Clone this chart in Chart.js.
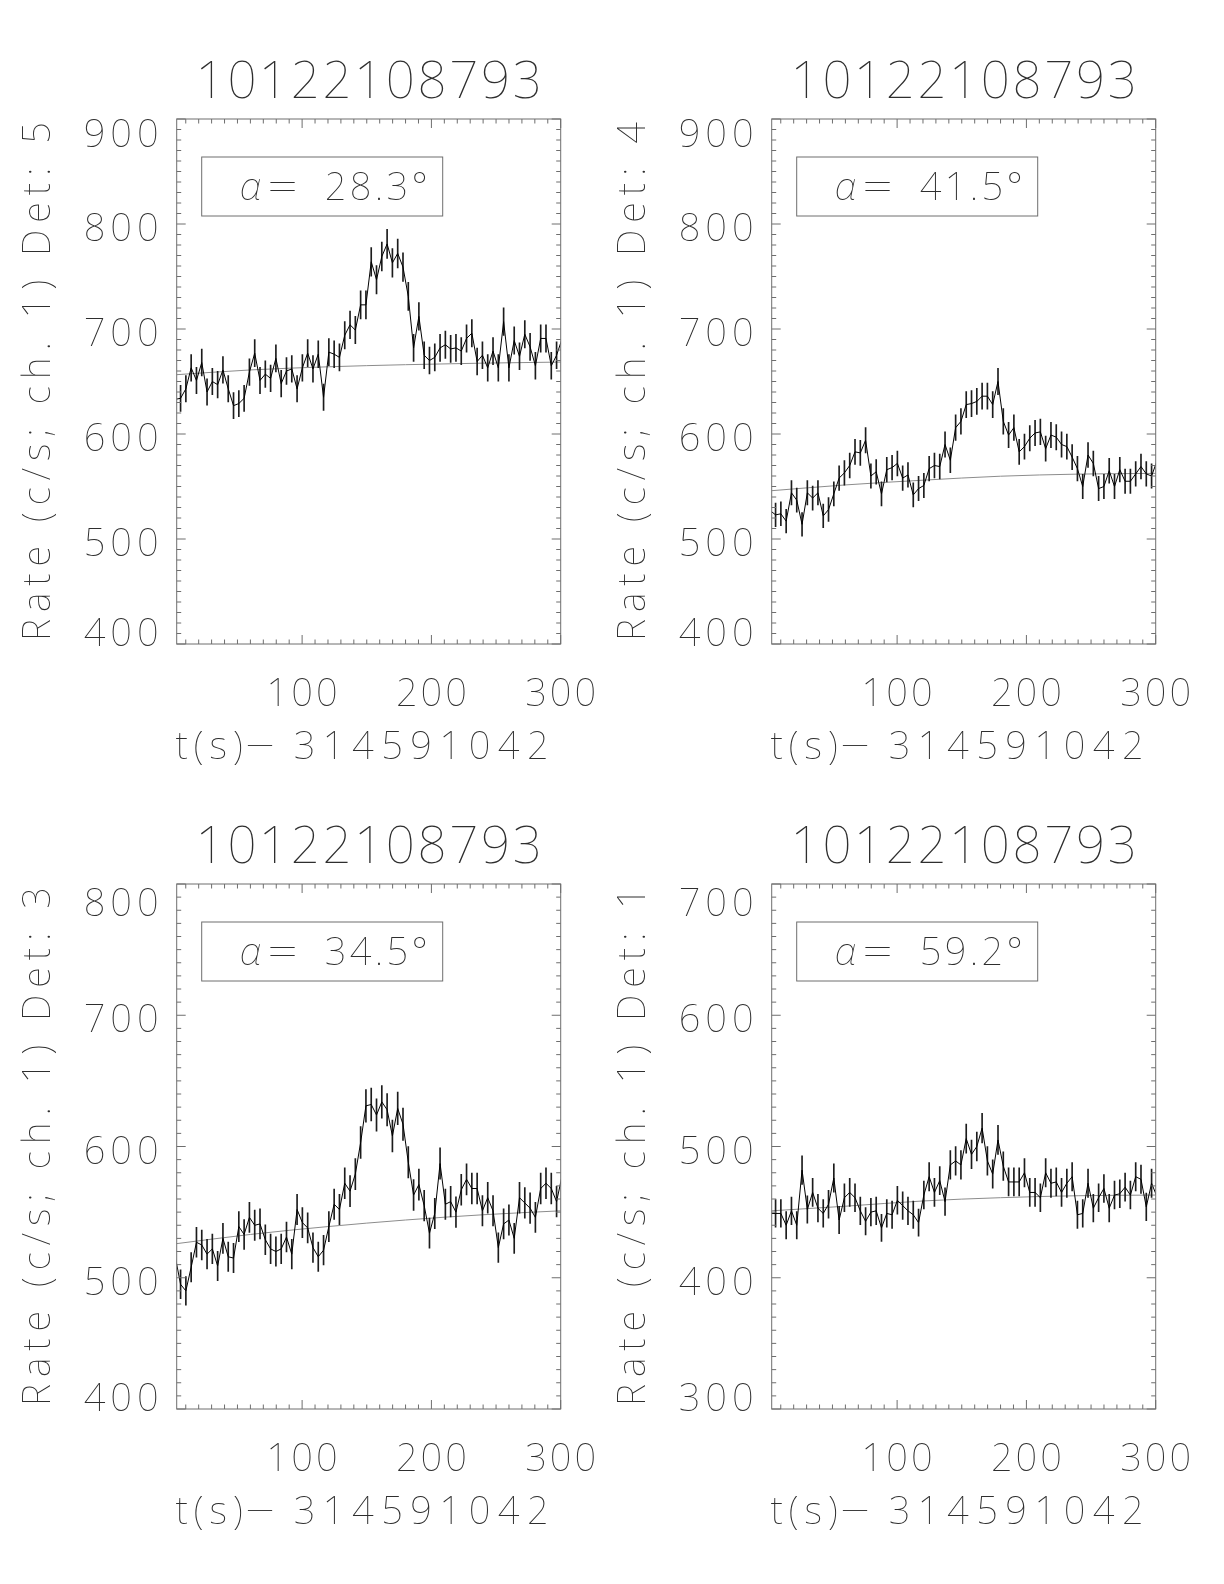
<!DOCTYPE html>
<html lang="en">
<head>
<meta charset="utf-8">
<title>10122108793 - count rate per detector</title>
<script src="https://cdn.jsdelivr.net/npm/chart.js@4.4.1/dist/chart.umd.min.js"></script>
<style>
  html, body { margin: 0; padding: 0; background: #fff; }
  body { position: relative; width: 1224px; height: 1584px; overflow: hidden; }
  canvas { position: absolute; }
</style>
</head>
<body>
<canvas id="det5" width="629" height="790" style="left:0;top:0"></canvas>
<canvas id="det4" width="629" height="790" style="left:595px;top:0"></canvas>
<canvas id="det3" width="629" height="790" style="left:0;top:765px"></canvas>
<canvas id="det1" width="629" height="790" style="left:595px;top:765px"></canvas>
<script>
// ============================================================
//  Light curves of burst 10122108793, four detectors, channel 1
// ============================================================

/* ── Data ── */
const BURST_ID = '10122108793';
const T_REF    = '314591042';
const BIN_S    = 4.096;          // time bin width (s)
const T_FIRST  = 1.9;            // centre of first bin (s after T_REF)
const X_MIN    = 3;
const X_MAX    = 300;
const X_TICKS  = [100, 200, 300];
const FIT_T    = [3, 60, 120, 180, 240, 300];

const RATE_DET5 = [633, 634, 643, 663, 651, 668, 640, 650, 647, 661,
                   643, 627, 629, 634, 659, 677, 651, 657, 653, 672,
                   648, 660, 662, 643, 663, 677, 662, 676, 635, 678,
                   676, 673, 694, 704, 699, 723, 723, 764, 747, 769,
                   781, 763, 772, 759, 731, 682, 712, 675, 670, 673,
                   682, 685, 681, 682, 679, 691, 696, 669, 675, 663,
                   679, 663, 707, 663, 689, 674, 695, 683, 665, 691,
                   691, 665, 675, 690];
const RATE_DET4 = [527, 523, 524, 517, 544, 537, 514, 544, 539, 544,
                   522, 528, 543, 558, 563, 570, 583, 582, 594, 560,
                   564, 543, 566, 568, 572, 558, 561, 542, 548, 551,
                   567, 570, 569, 590, 575, 606, 612, 628, 629, 631,
                   636, 636, 628, 650, 612, 599, 606, 583, 588, 596,
                   601, 602, 586, 599, 597, 590, 588, 578, 567, 550,
                   580, 572, 548, 550, 565, 550, 566, 555, 555, 562,
                   569, 562, 560, 574];
const RATE_DET3 = [516, 495, 490, 508, 527, 525, 518, 522, 509, 530,
                   516, 515, 539, 533, 546, 540, 541, 529, 522, 520,
                   522, 531, 518, 552, 542, 538, 523, 516, 521, 539,
                   556, 552, 572, 566, 579, 603, 631, 632, 624, 634,
                   628, 608, 629, 617, 588, 563, 571, 555, 534, 549,
                   587, 556, 558, 550, 567, 575, 568, 568, 551, 561,
                   551, 523, 541, 544, 530, 561, 557, 553, 546, 568,
                   572, 568, 558, 577];
const RATE_DET1 = [449, 449, 449, 440, 451, 440, 482, 452, 465, 453,
                   449, 456, 476, 444, 461, 465, 461, 451, 443, 450,
                   451, 438, 449, 448, 459, 455, 451, 448, 442, 463,
                   477, 465, 474, 458, 486, 489, 486, 506, 494, 500,
                   514, 489, 479, 505, 485, 473, 473, 473, 480, 465,
                   465, 461, 480, 472, 473, 465, 472, 477, 448, 449,
                   472, 453, 461, 468, 453, 463, 464, 469, 463, 477,
                   475, 454, 472, 462];

// background fit, sampled at FIT_T
const FIT_DET5 = [656.5, 661, 664, 666, 667.5, 668.5];
const FIT_DET4 = [546, 551.5, 556, 559.8, 561.8, 562.5];
const FIT_DET3 = [526, 533, 539, 544, 548, 551];
const FIT_DET1 = [451, 454.5, 458.5, 461, 462.5, 463];

const Y_TICKS_DET5 = [400, 500, 600, 700, 800, 900];
const Y_TICKS_DET4 = [400, 500, 600, 700, 800, 900];
const Y_TICKS_DET3 = [400, 500, 600, 700, 800];
const Y_TICKS_DET1 = [300, 400, 500, 600, 700];

const PANELS = [
  { canvas: 'det5', det: 5, alpha: '28.3', rate: RATE_DET5, fit: FIT_DET5, yTicks: Y_TICKS_DET5 },
  { canvas: 'det4', det: 4, alpha: '41.5', rate: RATE_DET4, fit: FIT_DET4, yTicks: Y_TICKS_DET4 },
  { canvas: 'det3', det: 3, alpha: '34.5', rate: RATE_DET3, fit: FIT_DET3, yTicks: Y_TICKS_DET3 },
  { canvas: 'det1', det: 1, alpha: '59.2', rate: RATE_DET1, fit: FIT_DET1, yTicks: Y_TICKS_DET1 },
];

/* ── Look ── */
const FONT       = '"Noto Sans", "DejaVu Sans", sans-serif';
const DIGIT_H    = 0.714;        // digit height of the font, in em
const TEXT_COLOR = '#2e2e2e';
const AXIS_COLOR = '#6e6e6e';
const CANVAS_W = 629, CANVAS_H = 790;
const AREA = { left: 176.7, top: 119, width: 384, height: 525 };
// top-label nudge: IDL pulls the end labels inside the frame
const TOP_NUDGE = { det5: 14, det4: 14, det3: 18, det1: 18 };

function setFont(ctx, size, italic) {
  ctx.font = `${italic ? 'italic ' : ''}100 ${size}px ${FONT}`;
  ctx.textAlign = 'left';
  ctx.textBaseline = 'alphabetic';
}

// draw str with its left edge at `left`, stretched to `width` px via letter spacing,
// vertically centred (on the digit height) at midY
function fitText(ctx, str, left, midY, size, width, italic = false) {
  setFont(ctx, size, italic);
  ctx.letterSpacing = '0px';
  const w = ctx.measureText(str).width;
  const n = [...str].length;
  const ls = n > 1 ? (width - w) / (n - 1) : 0;
  ctx.letterSpacing = ls + 'px';
  ctx.fillText(str, left, midY + size * DIGIT_H / 2);
  ctx.letterSpacing = '0px';
}

// one glyph (like '=' or '−') widened to the broad Hershey shape
function wideGlyph(ctx, ch, left, midY, size, width) {
  setFont(ctx, size, false);
  ctx.letterSpacing = '0px';
  const m = ctx.measureText(ch);
  const ink = m.actualBoundingBoxLeft + m.actualBoundingBoxRight;
  ctx.save();
  ctx.translate(left, midY + size * DIGIT_H / 2);
  ctx.scale(width / ink, 1);
  ctx.fillText(ch, m.actualBoundingBoxLeft, 0);
  ctx.restore();
}

/* ── IDL-like frame, inward ticks and labels ── */
const idlAxes = {
  id: 'idlAxes',
  afterDatasetsDraw(chart, args, opts) {
    const { ctx, chartArea: a, scales: { x, y } } = chart;
    const yt = opts.yTicks;
    ctx.save();
    ctx.strokeStyle = AXIS_COLOR;
    ctx.lineWidth = 1;
    ctx.strokeRect(a.left, a.top, a.right - a.left, a.bottom - a.top);

    ctx.beginPath();
    for (let v = 10; v <= X_MAX; v += 10) {
      if (v < X_MIN) continue;
      const len = X_TICKS.includes(v) ? 9 : 4.5;
      const px = x.getPixelForValue(v);
      ctx.moveTo(px, a.bottom); ctx.lineTo(px, a.bottom - len);
      ctx.moveTo(px, a.top);    ctx.lineTo(px, a.top + len);
    }
    for (let v = yt[0]; v <= yt[yt.length - 1]; v += 10) {
      const len = yt.includes(v) ? 9 : 4.5;
      const py = y.getPixelForValue(v);
      ctx.moveTo(a.left, py);  ctx.lineTo(a.left + len, py);
      ctx.moveTo(a.right, py); ctx.lineTo(a.right - len, py);
    }
    ctx.stroke();

    ctx.fillStyle = TEXT_COLOR;
    // y tick labels, right edge 18px left of the frame
    yt.forEach((v, i) => {
      let dy = 3.5;
      if (i === 0) dy = -12;
      if (i === yt.length - 1) dy = opts.topNudge;
      fitText(ctx, String(v), a.left - 18 - 75, y.getPixelForValue(v) + dy, 38, 75);
    });
    // x tick labels
    X_TICKS.forEach(v => {
      fitText(ctx, String(v), x.getPixelForValue(v) - 35.5, a.bottom + 48.5, 38, 71);
    });
    const cx = (a.left + a.right) / 2;
    fitText(ctx, BURST_ID, cx - 173, a.top - 39, 51, 346);

    // x title: "t(s)− 314591042"
    const xy = a.bottom + 101;
    fitText(ctx, 't(s)', a.left - 1, xy, 38, 67);
    wideGlyph(ctx, '\u2212', a.left + 71, xy, 38, 25);
    fitText(ctx, T_REF, a.left + 117, xy, 38, 255);

    ctx.save();
    ctx.translate(a.left - 140, (a.top + a.bottom) / 2);
    ctx.rotate(-Math.PI / 2);
    fitText(ctx, `Rate (c/s; ch. 1) Det: ${opts.det}`, -259.5, 0, 38, 519);
    ctx.restore();

    // angle box
    const bx = a.left + 25, by = a.top + 38;
    ctx.strokeRect(bx, by, 241, 59);
    const ty = by + 29;
    fitText(ctx, '\u03b1', a.left + 63, ty, 38, 0, true);
    wideGlyph(ctx, '=', a.left + 93.5, ty, 38, 25);
    fitText(ctx, `${opts.alpha}\u00b0`, a.left + 148, ty, 38, 103);
    ctx.restore();
  }
};

/* ── Build one chart per detector ── */
function makePanel(p) {
  const times  = p.rate.map((_, i) => T_FIRST + i * BIN_S);
  const points = times.map((t, i) => ({ x: t, y: p.rate[i] }));
  const errors = times.map((t, i) => {
    const e = Math.sqrt(p.rate[i] / BIN_S);   // Poisson error on a rate
    return { x: t, y: [p.rate[i] - e, p.rate[i] + e] };
  });
  const fit = FIT_T.map((t, i) => ({ x: t, y: p.fit[i] }));

  new Chart(document.getElementById(p.canvas), {
    type: 'line',
    data: {
      datasets: [
        { type: 'line', data: points, borderColor: '#000', borderWidth: 1,
          pointRadius: 0, tension: 0, order: 0 },
        { type: 'bar', data: errors, backgroundColor: '#1c1c1c', borderWidth: 0,
          barThickness: 1, grouped: false, order: 1 },
        { type: 'line', data: fit, borderColor: '#8c8c8c', borderWidth: 1,
          pointRadius: 0, cubicInterpolationMode: 'monotone', order: 2 },
      ]
    },
    options: {
      responsive: false,
      animation: false,
      events: [],
      layout: {
        padding: {
          left: AREA.left, top: AREA.top,
          right: CANVAS_W - AREA.left - AREA.width,
          bottom: CANVAS_H - AREA.top - AREA.height
        }
      },
      plugins: {
        legend: { display: false },
        tooltip: { enabled: false },
        idlAxes: { yTicks: p.yTicks, det: p.det, alpha: p.alpha, topNudge: TOP_NUDGE[p.canvas] }
      },
      scales: {
        x: { type: 'linear', min: X_MIN, max: X_MAX, offset: false, display: false },
        y: { type: 'linear', min: p.yTicks[0], max: p.yTicks[p.yTicks.length - 1], display: false }
      }
    },
    plugins: [idlAxes]
  });
}

PANELS.forEach(makePanel);
</script>
</body>
</html>
